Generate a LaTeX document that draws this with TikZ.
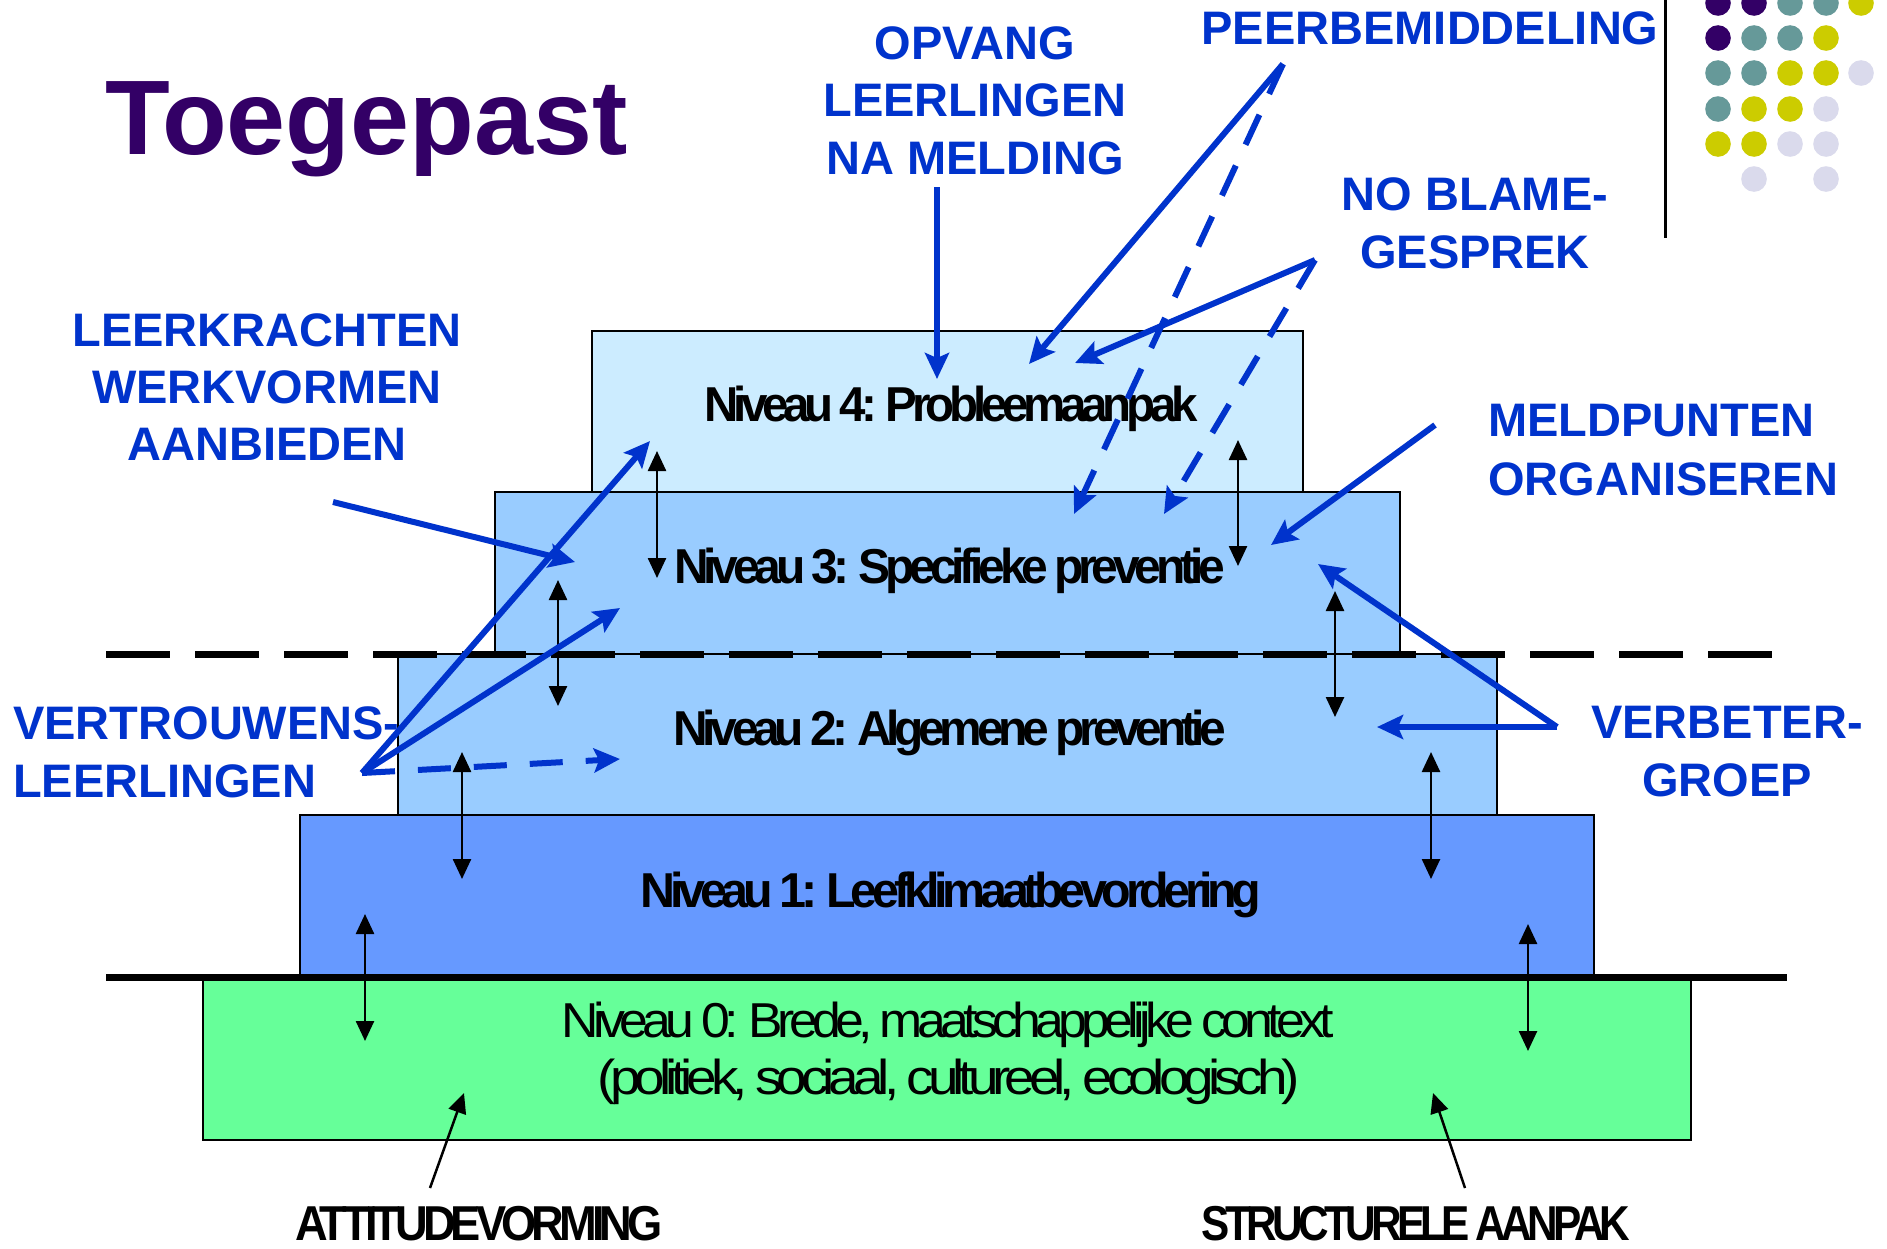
\documentclass[tikz,border=0pt]{standalone}
\usepackage{fontspec}
\setmainfont{Liberation Sans}
\newfontfamily\tightfont[LetterSpace=-11,WordSpace=0.8]{Liberation Sans}
\usepackage{graphicx}
\usetikzlibrary{arrows.meta}
\definecolor{lblue}{HTML}{0033CC}
\definecolor{tpurple}{HTML}{330066}
\definecolor{cfour}{HTML}{CCECFF}
\definecolor{cthree}{HTML}{99CCFF}
\definecolor{cone}{HTML}{6699FF}
\definecolor{czero}{HTML}{66FF99}
\definecolor{dpurple}{HTML}{330066}
\definecolor{dteal}{HTML}{669999}
\definecolor{dyellow}{HTML}{CCCC00}
\definecolor{dlav}{HTML}{DADAEC}
\newcommand{\squeeze}[2]{\resizebox{#1}{\height}{#2}}
\begin{document}
\begin{tikzpicture}[x=1pt,y=-1pt,
  lvl/.style={draw=black, line width=2.5pt, inner sep=0pt, outer sep=0pt},
  lbl/.style={font=\bfseries\fontsize{47}{57}\selectfont, text=lblue, inner sep=0pt, anchor=base},
  lblw/.style={lbl, anchor=base west},
  nivtxt/.style={font=\tightfont\bfseries\fontsize{49}{58}\selectfont, inner sep=0pt, anchor=base},
  ctxtxt/.style={font=\tightfont\fontsize{49}{58}\selectfont, inner sep=0pt, anchor=base},
  barrow/.style={line width=6pt, draw=lblue, -{Stealth[length=26pt,width=24pt,inset=5pt]}},
  bdash/.style={barrow, dash pattern=on 33pt off 23pt},
  karrow/.style={line width=2.5pt, {Triangle[length=20pt,width=18pt]}-{Triangle[length=20pt,width=18pt]}},
  ksingle/.style={line width=2.5pt, -{Triangle[length=20pt,width=18pt]}},
  dot/.style={circle, inner sep=0pt, minimum size=25.6pt}
]
\useasboundingbox (0,0) rectangle (1887,1248);
\fill[white] (0,0) rectangle (1887,1248);

% dots
\foreach \cx/\cy/\cc [count=\k] in {
  1718/3/dpurple, 1754/3/dpurple, 1790/3/dteal, 1826/3/dteal, 1861/3/dyellow,
  1718/38/dpurple, 1754/38/dteal, 1790/38/dteal, 1826/38/dyellow,
  1718/73/dteal, 1754/73/dteal, 1790/73/dyellow, 1826/73/dyellow, 1861/73/dlav,
  1718/109/dteal, 1754/109/dyellow, 1790/109/dyellow, 1826/109/dlav,
  1718/144/dyellow, 1754/144/dyellow, 1790/144/dlav, 1826/144/dlav,
  1754/179/dlav, 1826/179/dlav}
  \node[dot, fill=\cc] (dot\k) at (\cx,\cy) {};

% separator
\coordinate (sepT) at (1665,0);
\coordinate (sepB) at (1665,238);
\draw[line width=3pt] (sepT) -- (sepB);

% title
\node[font=\bfseries\fontsize{106}{120}\selectfont, text=tpurple, inner sep=0pt, anchor=base west] (title) at (105,154) {Toegepast};

% level boxes
\node[lvl, fill=cfour, minimum width=711pt, minimum height=161pt] (n4) at (947.5,411.5) {};
\node[lvl, fill=cthree, minimum width=905pt, minimum height=162pt] (n3) at (947.5,573) {};
\node[lvl, fill=cthree, minimum width=1099pt, minimum height=161pt] (n2) at (947.5,734.5) {};
\node[lvl, fill=cone, minimum width=1294pt, minimum height=162pt] (n1) at (947,896) {};
\node[lvl, fill=czero, minimum width=1488pt, minimum height=163pt] (n0) at (947,1058.5) {};

% separating lines
\coordinate (dashL) at (106,654);
\coordinate (dashR) at (1772,654);
\draw[line width=7pt, dash pattern=on 64pt off 25pt] (dashL) -- (dashR);
\coordinate (solL) at (106,977);
\coordinate (solR) at (1787,977);
\draw[line width=7pt] (solL) -- (solR);

% level texts
\node[nivtxt] (t4) at (951,421) {\squeeze{494pt}{Niveau 4: Probleemaanpak}};
\node[nivtxt] (t3) at (950,583) {\squeeze{551pt}{Niveau 3: Specifieke preventie}};
\node[nivtxt] (t2) at (950,745) {\squeeze{553pt}{Niveau 2: Algemene preventie}};
\node[nivtxt] (t1) at (951,907) {\squeeze{620pt}{Niveau 1: Leefklimaatbevordering}};
\node[ctxtxt] (t0a) at (948,1037) {\squeeze{772pt}{Niveau 0: Brede, maatschappelijke context}};
\node[ctxtxt] (t0b) at (949,1094) {\squeeze{702pt}{(politiek, sociaal, cultureel, ecologisch)}};

% black double arrows
\coordinate (ka1) at (657,451);  \coordinate (kb1) at (657,578);
\coordinate (ka2) at (558,580);  \coordinate (kb2) at (558,706);
\coordinate (ka3) at (462,752);  \coordinate (kb3) at (462,879);
\coordinate (ka4) at (365,914);  \coordinate (kb4) at (365,1041);
\coordinate (ka5) at (1238,440); \coordinate (kb5) at (1238,566);
\coordinate (ka6) at (1335,591); \coordinate (kb6) at (1335,717);
\coordinate (ka7) at (1431,752); \coordinate (kb7) at (1431,879);
\coordinate (ka8) at (1528,924); \coordinate (kb8) at (1528,1051);
\foreach \i in {1,...,8} \draw[karrow] (ka\i) -- (kb\i);

% bottom labels and arrows
\node[nivtxt] (att) at (479,1240) {\squeeze{367pt}{ATTITUDEVORMING}};
\node[nivtxt] (str) at (1416,1240) {\squeeze{429pt}{STRUCTURELE AANPAK}};
\coordinate (attS) at (430,1188); \coordinate (attE) at (464,1093);
\coordinate (strS) at (1465,1188); \coordinate (strE) at (1433,1093);
\draw[ksingle] (attS) -- (attE);
\draw[ksingle] (strS) -- (strE);

% blue labels
\node[lbl] (opv1) at (975,59) {OPVANG};
\node[lbl] (opv2) at (975,116) {LEERLINGEN};
\node[lbl] (opv3) at (975,174) {NA MELDING};
\node[lbl] (peer) at (1430,44) {PEERBEMIDDELING};
\node[lbl] (nob1) at (1475,210) {NO BLAME-};
\node[lbl] (nob2) at (1475,268) {GESPREK};
\node[lblw] (mel1) at (1488,436) {MELDPUNTEN};
\node[lblw] (mel2) at (1488,495) {ORGANISEREN};
\node[lbl] (lkr1) at (267,346) {LEERKRACHTEN};
\node[lbl] (lkr2) at (267,403) {WERKVORMEN};
\node[lbl] (lkr3) at (267,460) {AANBIEDEN};
\node[lblw] (ver1) at (13,739) {VERTROUWENS-};
\node[lblw] (ver2) at (13,797) {LEERLINGEN};
\node[lbl] (vbg1) at (1727,738) {VERBETER-};
\node[lbl] (vbg2) at (1727,796) {GROEP};

% blue arrows
\coordinate (opvS) at (937,187);   \coordinate (opvE) at (937,379);
\coordinate (peerS) at (1283,64);  \coordinate (peerE1) at (1029,364); \coordinate (peerE2) at (1074,514);
\coordinate (nobS) at (1315,260);  \coordinate (nobE1) at (1075,363); \coordinate (nobE2) at (1164,514);
\coordinate (melS) at (1435,425);  \coordinate (melE) at (1271,545);
\coordinate (lkrS) at (333,502);   \coordinate (lkrE) at (575,562);
\coordinate (verS) at (362,773);   \coordinate (verE1) at (650,441); \coordinate (verE2) at (620,608); \coordinate (verE3) at (620,759);
\coordinate (vbgS) at (1557,727);  \coordinate (vbgE1) at (1318,564); \coordinate (vbgE2) at (1377,727);

\draw[barrow] (opvS) -- (opvE);
\draw[barrow] (peerS) -- (peerE1);
\draw[bdash] (peerS) -- (peerE2);
\draw[barrow] (nobS) -- (nobE1);
\draw[bdash] (nobS) -- (nobE2);
\draw[barrow] (melS) -- (melE);
\draw[barrow] (lkrS) -- (lkrE);
\draw[barrow] (verS) -- (verE1);
\draw[barrow] (verS) -- (verE2);
\draw[bdash] (verS) -- (verE3);
\draw[barrow] (vbgS) -- (vbgE1);
\draw[barrow] (vbgS) -- (vbgE2);
\end{tikzpicture}
\end{document}
